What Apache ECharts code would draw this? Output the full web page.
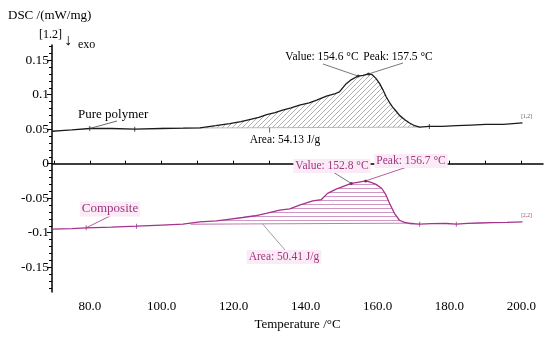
<!DOCTYPE html>
<html><head><meta charset="utf-8">
<script src="https://cdn.jsdelivr.net/npm/echarts@6/dist/echarts.min.js"></script>
<style>html,body{margin:0;padding:0;background:#fff}#c{width:550px;height:341px}</style>
</head><body><div id="c"></div>
<script>
// ---- data ----
const pureT = [69.5, 72, 75, 80, 86, 92.5, 100, 106, 110.6, 115, 118.9, 122, 124.4, 127, 129.2, 131.5, 133.6, 136, 138.3, 141, 143.1, 145.8, 148, 149.4, 151.3, 152.5, 154.6, 156, 157.5, 158.5, 159.5, 160.6, 161.5, 162.4, 163.3, 164.2, 165.2, 166.1, 167.5, 168.9, 170.3, 171.7, 174.4, 178, 182, 186, 190, 195, 200.3];
const pureV = [0.047, 0.048, 0.049, 0.051, 0.051, 0.050, 0.051, 0.0515, 0.052, 0.055, 0.058, 0.061, 0.064, 0.067, 0.071, 0.074, 0.0775, 0.081, 0.085, 0.088, 0.092, 0.098, 0.101, 0.104, 0.116, 0.121, 0.127, 0.128, 0.130, 0.129, 0.124, 0.116, 0.107, 0.097, 0.089, 0.082, 0.076, 0.070, 0.064, 0.059, 0.055, 0.053, 0.054, 0.054, 0.055, 0.056, 0.057, 0.057, 0.059];
const compT = [69.5, 75, 79, 86, 93, 100, 105.9, 110.6, 115.2, 118, 122.5, 126, 129, 132.8, 135.6, 138.3, 142, 144.4, 146.1, 148.5, 150.5, 152.7, 154.5, 156.7, 158.2, 159.6, 161.2, 162.3, 163.3, 164.7, 166.1, 167.5, 168.9, 171.7, 175, 179.1, 181.9, 185, 188.3, 192, 196, 200.3];
const compV = [-0.095, -0.094, -0.093, -0.092, -0.0906, -0.089, -0.0877, -0.0845, -0.083, -0.081, -0.078, -0.0755, -0.072, -0.0674, -0.0655, -0.060, -0.054, -0.052, -0.043, -0.037, -0.033, -0.0287, -0.027, -0.025, -0.027, -0.030, -0.036, -0.045, -0.057, -0.072, -0.082, -0.085, -0.0867, -0.0877, -0.087, -0.0867, -0.0877, -0.0865, -0.086, -0.0855, -0.085, -0.0843];
const pureBase = [[100, 0.0515], [172, 0.053]];
const compBase = [[108, -0.0877], [170, -0.0862]];
const pureMarkIdx = [3, 5, 42];
const compMarkIdx = [2, 4, 33, 36];
const xTickLabels = [80, 100, 120, 140, 160, 180, 200];
const yTickLabels = [-0.15, -0.1, -0.05, 0, 0.05, 0.1, 0.15];
const pureValue = [154.6, 0.127], purePeak = [157.5, 0.130];
const compValue = [152.7, -0.0287], compPeak = [156.7, -0.025];
const pureAreaText = 'Area: 54.13 J/g', compAreaText = 'Area: 50.41 J/g';

const FONT = 'Liberation Serif';
const BLACK = '#1a1a1a', MAG = '#a3338b', MAGTXT = '#a0367f', PINKBG = '#fbebf7';

function pat(kind, color) {
  const c = document.createElement('canvas');
  const ctx = c.getContext('2d');
  if (kind === 'diag') {
    c.width = 5; c.height = 5;
    ctx.strokeStyle = color; ctx.lineWidth = 0.8;
    ctx.beginPath();
    ctx.moveTo(-1, 6); ctx.lineTo(6, -1);
    ctx.moveTo(-1, 1); ctx.lineTo(1, -1);
    ctx.moveTo(4, 6); ctx.lineTo(6, 4);
    ctx.stroke();
  } else {
    c.width = 4; c.height = 4;
    ctx.fillStyle = color; ctx.fillRect(0, 0, 4, 1);
  }
  return { image: c, repeat: 'repeat' };
}

function areaRender(T, V, base, fill) {
  return function (params, api) {
    const pts = [api.coord(base[0])];
    for (let i = 0; i < T.length; i++) if (T[i] > base[0][0] && T[i] < base[1][0]) pts.push(api.coord([T[i], V[i]]));
    pts.push(api.coord(base[1]));
    return { type: 'polygon', shape: { points: pts }, style: { fill: fill, stroke: null } };
  };
}

const zip = (a, b) => a.map((t, i) => [t, b[i]]);
const minorY = []; for (let k = -18; k <= 17; k++) minorY.push(k / 100);
const minorX = []; for (let k = 7; k <= 20; k++) minorX.push(k * 10);

const chart = echarts.init(document.getElementById('c'));
chart.setOption({
  animation: false,
  backgroundColor: '#fff',
  grid: { left: 52, right: 7, top: 45, bottom: 49, containLabel: false },
  xAxis: {
    type: 'value', min: 69.5, max: 206,
    name: 'Temperature /°C', nameLocation: 'middle', nameGap: 26,
    nameTextStyle: { fontFamily: FONT, fontSize: 13, color: '#000' },
    axisLine: { lineStyle: { color: '#000', width: 1.5 } },
    axisTick: { inside: true, length: 3, customValues: minorX, lineStyle: { color: '#000' } },
    axisLabel: { customValues: xTickLabels, formatter: v => v.toFixed(1), fontFamily: FONT, fontSize: 13, color: '#000', margin: 8 },
    splitLine: { show: false }
  },
  yAxis: [{
    type: 'value', min: -0.186, max: 0.172,
    axisLine: { show: true, lineStyle: { color: '#000', width: 1.5 } },
    axisTick: { length: 5, customValues: yTickLabels, lineStyle: { color: '#000' } },
    axisLabel: { customValues: yTickLabels, formatter: v => String(Math.round(v * 100) / 100), fontFamily: FONT, fontSize: 13.5, color: '#000', margin: 3 },
    splitLine: { show: false }
  }, {
    type: 'value', min: -0.186, max: 0.172, position: 'left', offset: 0,
    axisLine: { show: false },
    axisTick: { length: 3, customValues: minorY, lineStyle: { color: '#000' } },
    axisLabel: { show: false }, splitLine: { show: false }
  }],
  series: [
    { type: 'custom', data: [pureBase[0]], renderItem: areaRender(pureT, pureV, pureBase, pat('diag', '#9a9a9a')), silent: true, z: 1 },
    { type: 'custom', data: [compBase[0]], renderItem: areaRender(compT, compV, compBase, pat('horiz', '#cf97c3')), silent: true, z: 1 },
    { type: 'line', data: pureBase, symbol: 'none', lineStyle: { color: '#aaa', width: 0.8 }, z: 2 },
    { type: 'line', data: compBase, symbol: 'none', lineStyle: { color: '#b05a9c', width: 0.8 }, z: 2 },
    { type: 'line', data: zip(pureT, pureV), symbol: 'none', lineStyle: { color: BLACK, width: 1.3 }, z: 3 },
    { type: 'line', data: zip(compT, compV), symbol: 'none', lineStyle: { color: MAG, width: 1.3 }, z: 3 },
    { type: 'scatter', data: pureMarkIdx.map(i => [pureT[i], pureV[i]]), symbol: 'rect', symbolSize: [1, 5], itemStyle: { color: BLACK }, z: 4 },
    { type: 'scatter', data: compMarkIdx.map(i => [compT[i], compV[i]]), symbol: 'rect', symbolSize: [1, 5], itemStyle: { color: MAG }, z: 4 },
    { type: 'scatter', data: [pureValue, purePeak], symbolSize: 3, itemStyle: { color: BLACK }, z: 4 },
    { type: 'scatter', data: [compValue, compPeak], symbolSize: 3, itemStyle: { color: '#5a1f4e' }, z: 4 }
  ]
});

const P = p => chart.convertToPixel({ gridIndex: 0 }, p);
function txt(text, x, y, opts) {
  return Object.assign({ type: 'text', x: x, y: y, z: 20,
    style: Object.assign({ text: text, fontFamily: FONT, fontSize: 11.5, fill: '#000', align: 'center', verticalAlign: 'middle' }, opts || {}) });
}
function seg(a, b, color) {
  return { type: 'line', z: 19, shape: { x1: a[0], y1: a[1], x2: b[0], y2: b[1] }, style: { stroke: color || '#555', lineWidth: 0.8 } };
}
const pinkTxt = { fill: MAGTXT, backgroundColor: PINKBG, padding: [1, 2] };
const pv = P(pureValue), pp = P(purePeak), cv = P(compValue), cp = P(compPeak);
const pa = P([130, pureBase[0][1] + (pureBase[1][1] - pureBase[0][1]) * (30 / 72)]);
const ca = P([128, compBase[0][1] + (compBase[1][1] - compBase[0][1]) * (20 / 62)]);
const pl = P([pureT[3], pureV[3]]), cl = P([compT[2], compV[2]]);
const pe = P([pureT[pureT.length - 1], pureV[pureV.length - 1]]);
const ce = P([compT[compT.length - 1], compV[compV.length - 1]]);
chart.setOption({
  graphic: [
    txt('DSC /(mW/mg)', 8, 16, { align: 'left', fontSize: 13 }),
    txt('[1.2]', 39, 35, { align: 'left', fontSize: 12 }),
    txt('↓', 68, 41, { align: 'center', fontSize: 16 }),
    txt('exo', 78, 45, { align: 'left', fontSize: 12 }),
    txt('Pure polymer', 78, 115, { align: 'left', fontSize: 13 }),
    seg([117, 121], pl, '#444'),
    txt('Value: 154.6 °C', 322, 57), seg([323, 64], pv, '#555'),
    txt('Peak: 157.5 °C', 398, 57), seg([403, 63], pp, '#555'),
    txt(pureAreaText, 285, 140), seg(pa, [pa[0], pa[1] + 5], '#444'),
    txt('Composite', 110, 209, Object.assign({ fontSize: 13 }, pinkTxt)),
    seg([110, 216], cl, MAGTXT),
    txt('Value: 152.8 °C', 332, 166, pinkTxt), seg([333, 172], cv, '#555'),
    txt('Peak: 156.7 °C', 411, 161, pinkTxt), seg([407, 167], cp, MAGTXT),
    txt(compAreaText, 284, 257, pinkTxt), seg(ca, [285, 250], '#888'),
    txt('[1,2]', pe[0] + 4, pe[1] - 6, { fontSize: 5.5, fill: '#555' }),
    txt('[2,2]', ce[0] + 4, ce[1] - 6, { fontSize: 5.5, fill: MAGTXT })
  ]
});
</script>
</body></html>
